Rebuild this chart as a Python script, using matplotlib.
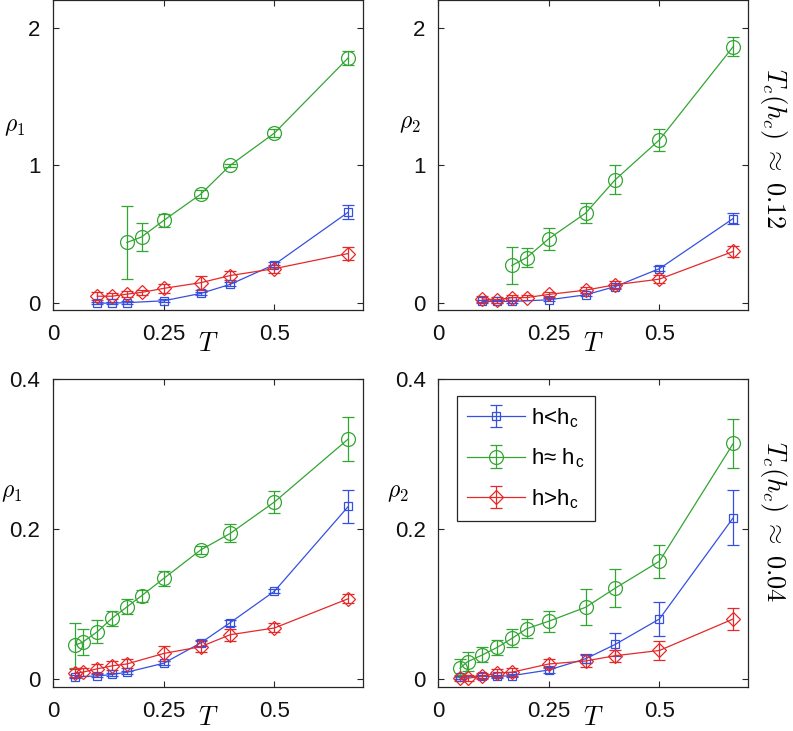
import matplotlib
matplotlib.use("Agg")
import matplotlib.pyplot as plt
import numpy as np

plt.rcParams['font.family'] = ['Liberation Sans', 'DejaVu Sans']
plt.rcParams['mathtext.fontset'] = 'cm'

# ---------------- data ----------------
# Top row (T_c(h_c) ~ 0.12)
T_top_blue = [1/10, 2/15, 1/6, 1/4, 1/3, 2/5, 1/2, 2/3]
T_top_green = [1/6, 1/5, 1/4, 1/3, 2/5, 1/2, 2/3]
T_top_red = [1/10, 2/15, 1/6, 1/5, 1/4, 1/3, 2/5, 1/2, 2/3]

rho1_top_blue = [0.0, 0.0, 0.003, 0.017, 0.07, 0.136, 0.28, 0.66]
rho1_top_blue_err = [0.01, 0.01, 0.01, 0.01, 0.01, 0.015, 0.02, 0.05]
rho1_top_green = [0.44, 0.48, 0.60, 0.79, 1.0, 1.234, 1.78]
rho1_top_green_err = [0.265, 0.10, 0.05, 0.03, 0.01, 0.03, 0.05]
rho1_top_red = [0.05, 0.05, 0.065, 0.078, 0.107, 0.148, 0.20, 0.25, 0.36]
rho1_top_red_err = [0.03, 0.02, 0.02, 0.02, 0.03, 0.05, 0.03, 0.03, 0.05]

rho2_top_blue = [0.012, 0.012, 0.012, 0.024, 0.06, 0.12, 0.25, 0.614]
rho2_top_blue_err = [0.01, 0.01, 0.01, 0.01, 0.01, 0.01, 0.02, 0.04]
rho2_top_green = [0.273, 0.33, 0.467, 0.653, 0.895, 1.185, 1.862]
rho2_top_green_err = [0.135, 0.07, 0.08, 0.07, 0.105, 0.08, 0.07]
rho2_top_red = [0.03, 0.024, 0.04, 0.04, 0.063, 0.094, 0.133, 0.174, 0.375]
rho2_top_red_err = [0.02, 0.02, 0.02, 0.02, 0.02, 0.02, 0.03, 0.03, 0.04]

# Bottom row (T_c(h_c) ~ 0.04)
T_bot_blue = [1/20, 1/10, 2/15, 1/6, 1/4, 1/3, 2/5, 1/2, 2/3]
T_bot_green = [1/20, 1/15, 1/10, 2/15, 1/6, 1/5, 1/4, 1/3, 2/5, 1/2, 2/3]
T_bot_red = [1/20, 1/15, 1/10, 2/15, 1/6, 1/4, 1/3, 2/5, 1/2, 2/3]

rho1_bot_blue = [0.003, 0.004, 0.006, 0.009, 0.021, 0.048, 0.075, 0.117, 0.23]
rho1_bot_blue_err = [0.002, 0.002, 0.002, 0.002, 0.003, 0.004, 0.004, 0.003, 0.022]
rho1_bot_green = [0.045, 0.049, 0.063, 0.081, 0.096, 0.111, 0.134, 0.172, 0.194, 0.236, 0.32]
rho1_bot_green_err = [0.03, 0.017, 0.015, 0.01, 0.01, 0.008, 0.01, 0.005, 0.012, 0.015, 0.029]
rho1_bot_red = [0.008, 0.009, 0.0136, 0.0175, 0.020, 0.034, 0.043, 0.059, 0.068, 0.107]
rho1_bot_red_err = [0.005, 0.005, 0.006, 0.006, 0.006, 0.01, 0.007, 0.008, 0.006, 0.006]

rho2_bot_blue = [0.0026, 0.0035, 0.0035, 0.0044, 0.012, 0.027, 0.046, 0.08, 0.215]
rho2_bot_blue_err = [0.002, 0.002, 0.002, 0.002, 0.004, 0.006, 0.015, 0.023, 0.037]
rho2_bot_green = [0.0145, 0.023, 0.032, 0.042, 0.054, 0.067, 0.077, 0.0956, 0.121, 0.157, 0.314]
rho2_bot_green_err = [0.012, 0.013, 0.01, 0.01, 0.012, 0.013, 0.014, 0.024, 0.025, 0.022, 0.033]
rho2_bot_red = [0.0013, 0.001, 0.0035, 0.008, 0.009, 0.020, 0.024, 0.031, 0.038, 0.08]
rho2_bot_red_err = [0.004, 0.004, 0.004, 0.005, 0.005, 0.006, 0.008, 0.008, 0.013, 0.015]

series_labels = [r'h<h$_\mathregular{c}$', r'h≈ h$_\mathregular{c}$', r'h>h$_\mathregular{c}$']
xticks = [0, 0.25, 0.5]
xticklabels = ['0', '0.25', '0.5']
yticks_top = [0, 1, 2]
yticklabels_top = ['0', '1', '2']
yticks_bot = [0, 0.2, 0.4]
yticklabels_bot = ['0', '0.2', '0.4']
side_labels = [r'$T_c(h_c)\;\approx\;0.12$', r'$T_c(h_c)\;\approx\;0.04$']

# ---------------- styling ----------------
BLUE = '#3550e0'
GREEN = '#33a533'
RED = '#e62828'
SPINE = '#262626'

W, H = 793, 731
fig = plt.figure(figsize=(W / 100, H / 100), dpi=100)

def rect(l, r, t, b):
    return [l / W, (H - b) / H, (r - l) / W, (b - t) / H]

axes = {
    'tl': fig.add_axes(rect(53, 363, 0, 310)),
    'tr': fig.add_axes(rect(438, 748, 0, 310)),
    'bl': fig.add_axes(rect(53, 363, 379, 687)),
    'br': fig.add_axes(rect(438, 748, 379, 687)),
}

def draw(ax, data, ylim, yticks, yticklabels, ylabel, ylab_xy, xlab_y):
    styles = [(BLUE, 's', 5.5), (GREEN, 'o', 10), (RED, 'D', 7.0)]
    handles = []
    for (x, y, e), (c, m, ms), lab in zip(data, styles, series_labels):
        h = ax.errorbar(x, y, yerr=e, color=c, marker=m, markersize=ms,
                        markerfacecolor='none', markeredgecolor=c,
                        markeredgewidth=0.9, linewidth=0.9, elinewidth=0.9,
                        capsize=4.5, capthick=0.9, label=lab)
        handles.append(h)
    ax.set_xlim(0, 0.7)
    ax.set_ylim(*ylim)
    ax.set_xticks(xticks)
    ax.set_xticklabels(xticklabels)
    ax.set_yticks(yticks)
    ax.set_yticklabels(yticklabels)
    ax.tick_params(direction='in', top=True, right=True, length=4, width=0.8,
                   color=SPINE, labelsize=16, labelcolor='#111111')
    ax.tick_params(axis='x', pad=10)
    ax.tick_params(axis='y', pad=9)
    for s in ax.spines.values():
        s.set_color(SPINE)
        s.set_linewidth(0.9)
    ax.set_xlabel(r'$T$', fontsize=19)
    ax.xaxis.set_label_coords(0.5, xlab_y)
    ax.xaxis.label.set_va('center')
    ax.set_ylabel(ylabel, fontsize=17, rotation=0, va='center', ha='center')
    ax.yaxis.set_label_coords(*ylab_xy)
    return handles

draw(axes['tl'],
     [(T_top_blue, rho1_top_blue, rho1_top_blue_err),
      (T_top_green, rho1_top_green, rho1_top_green_err),
      (T_top_red, rho1_top_red, rho1_top_red_err)],
     (-0.05, 2.2), yticks_top, yticklabels_top, r'$\rho_1$', (-0.125, 0.59), -0.11)
draw(axes['tr'],
     [(T_top_blue, rho2_top_blue, rho2_top_blue_err),
      (T_top_green, rho2_top_green, rho2_top_green_err),
      (T_top_red, rho2_top_red, rho2_top_red_err)],
     (-0.05, 2.2), yticks_top, yticklabels_top, r'$\rho_2$', (-0.09, 0.6), -0.11)
draw(axes['bl'],
     [(T_bot_blue, rho1_bot_blue, rho1_bot_blue_err),
      (T_bot_green, rho1_bot_green, rho1_bot_green_err),
      (T_bot_red, rho1_bot_red, rho1_bot_red_err)],
     (-0.0107, 0.4), yticks_bot, yticklabels_bot, r'$\rho_1$', (-0.135, 0.63), -0.1)
hs = draw(axes['br'],
     [(T_bot_blue, rho2_bot_blue, rho2_bot_blue_err),
      (T_bot_green, rho2_bot_green, rho2_bot_green_err),
      (T_bot_red, rho2_bot_red, rho2_bot_red_err)],
     (-0.0107, 0.4), yticks_bot, yticklabels_bot, r'$\rho_2$', (-0.13, 0.63), -0.1)

leg = axes['br'].legend(handles=hs, loc='upper left', bbox_to_anchor=(0.061, 0.945),
                        borderaxespad=0.0,
                        fontsize=16, frameon=True, fancybox=False,
                        edgecolor=SPINE, framealpha=1, borderpad=0.45,
                        labelspacing=0.75, handlelength=2.6, handletextpad=0.3)
leg.get_frame().set_linewidth(0.9)

fig.text(774 / W, 1 - 148 / H, side_labels[0], rotation=-90, fontsize=19,
         ha='center', va='center')
fig.text(774 / W, 1 - 522 / H, side_labels[1], rotation=-90, fontsize=19,
         ha='center', va='center')

fig.savefig('out.png', dpi=100)
